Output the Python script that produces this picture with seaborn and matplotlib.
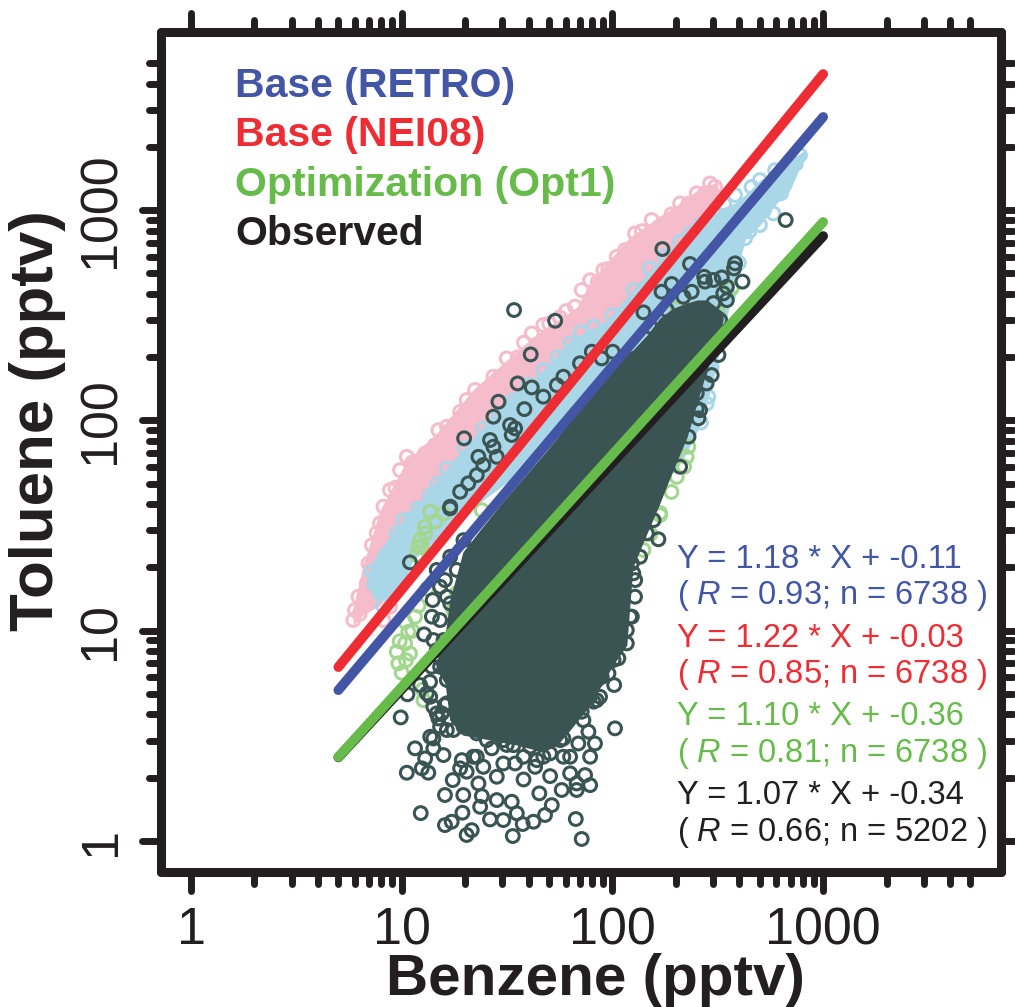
import numpy as np
import pandas as pd
import matplotlib
matplotlib.use('Agg')
import matplotlib.pyplot as plt
from matplotlib.markers import MarkerStyle
import seaborn as sns

# regression lines, end points in pptv
line_x = [5, 1000]
retro_line = [5.22, 2773]
nei08_line = [6.72, 4437]
opt1_line = [2.51, 878]
obs_line = [2.5, 753]

# dense parts of the clouds where single circles can't be read: envelope in pptv
pink_band_x = [5.87, 6.55, 7.89, 10.6, 14.7, 21.8, 31.6, 42, 67.9, 78.3, 121, 151, 209, 261, 317]
pink_band_low = [10.6, 11.9, 13.2, 21.7, 41.8, 58, 90, 125, 174, 216, 335, 417, 579, 721, 1117]
pink_band_high = [12.8, 20.5, 37.5, 64.8, 87.1, 140, 194, 249, 346, 455, 745, 868, 1081, 1274, 1361]

blue_band_x = [6.84, 7.63, 9.5, 11.3, 16.4, 24.3, 32.7, 46.9, 62.9, 94.3, 151, 216, 261, 297, 331, 382, 426, 502, 591, 697, 821]
blue_band_low = [17.4, 14, 14, 21.7, 30.1, 41.8, 52, 58, 64.8, 72, 41.8, 65, 95, 147, 241, 465, 721, 849, 1057, 1247, 1828]
blue_band_high = [18.4, 23.4, 31.1, 37.5, 60, 93, 129, 174, 241, 300, 519, 745, 849, 948, 1023, 1081, 1180, 1390, 1550, 1730, 1932]

obs_band_x = [14.7, 16.05, 16.9, 19.5, 23.5, 29.3, 35.3, 46.9, 54.6, 62.9, 78.3, 100.7, 117, 125, 146, 168, 194, 226, 252, 281, 335]
obs_band_low = [6.5, 5.6, 3.76, 3.19, 3.09, 2.96, 2.86, 2.65, 2.86, 3.37, 4.43, 6.87, 8.55, 20.1, 29.1, 40.5, 58.1, 83.4, 121, 174, 300]
obs_band_high = [7.26, 9.5, 14.0, 23.7, 30.1, 39.6, 49.3, 68.5, 82.5, 100, 129, 174, 209, 216, 255, 307, 342, 362, 374, 374, 327]

# single circles, log10(pptv)
pink_logx = [.913, .944, .992, 1.024, 1.111, 1.158, 1.174, 1.214, 1.277, 1.308, 1.348, 1.435, 1.498, 1.617, 1.672,
             1.822, 1.854, 1.894, 1.957, 2.020, 2.107, 2.186, 2.242, 2.321, 2.400, 2.463, 2.487,
             .770, .778, .794, .834, .842, .858, .897, .826, .913, .881, .929, .944,
             1.05, 1.09, 1.25, 1.39, 1.55, 1.75, 1.93, 2.06, 2.28, 2.36, 2.44,
             .80, .86, .89, .97, 1.07, 1.13, 1.46, 1.58, 1.70, 1.78, 1.98, 2.14, 2.22]
pink_logy = [1.590, 1.669, 1.764, 1.827, 1.843, 1.883, 1.954, 1.970, 2.041, 2.097, 2.145, 2.208, 2.295, 2.414, 2.454,
             2.541, 2.620, 2.667, 2.715, 2.778, 2.889, 2.953, 2.937, 3.032, 3.080, 3.127, 3.111,
             1.051, 1.098, 1.162, 1.225, 1.320, 1.407, 1.511, 1.146, 1.051, 1.464, 1.526, 1.114,
             1.80, 1.78, 1.98, 2.10, 2.30, 2.49, 2.66, 2.81, 2.98, 3.03, 3.08,
             1.08, 1.14, 1.32, 1.68, 1.74, 1.82, 2.20, 2.37, 2.46, 2.52, 2.72, 2.90, 2.92]

blue_logx = [.858, .897, .921, .976, 1.008, 1.079, 1.079, 1.134, 1.214, 1.387, 1.530, 1.672, 1.799, 1.910,
             2.178, 2.321, 2.700, 2.764, 2.629, 2.89, 2.843, 2.772, 2.70, 2.582, 2.487, 2.416,
             2.455, 2.447, 2.471, 2.42, 2.50, 2.55, 2.60, 2.65, 2.72, 2.80, 2.87,
             .87, .91, .95, 1.04, 1.17, 1.30, 1.46, 1.60, 1.74, 1.85, 2.00, 2.10, 2.25, 2.37, 2.53, 2.66]
blue_logy = [1.281, 1.178, 1.336, 1.463, 1.526, 1.582, 1.574, 1.645, 1.772, 1.962, 2.097, 2.240, 2.367, 2.446,
             2.723, 2.850, 2.929, 2.984, 2.866, 3.262, 3.214, 3.19, 3.143, 3.072, 2.977, 2.929,
             2.113, 2.08, 2.255, 1.99, 2.38, 2.60, 2.75, 2.90, 3.00, 3.08, 3.22,
             1.22, 1.12, 1.38, 1.53, 1.70, 1.87, 2.02, 2.17, 2.30, 2.42, 2.50, 2.62, 2.78, 2.89, 3.03, 3.11]

opt_logx = [.984, 1.016, 1.031, 1.063, .976, 1.039, 1.111, 1.079, 1.111, 1.134, 1.198, 1.103, 2.226, 2.147,
            2.305, 2.360, 2.352, 2.226, 2.501, 2.566, 2.305, 1.380, 1.016, 1.087, 1.095, 1.071, 1.261, 1.245,
            1.00, 1.05, .99, 1.08, 1.02, 1.12, 1.16, 1.10, 2.18, 2.28, 2.34]
opt_logy = [.845, .940, .995, 1.067, .900, .892, 1.463, 1.399, 1.495, 1.566, 1.558, .670, 1.550, 1.384,
            1.732, 1.875, 1.827, 1.560, 2.511, 2.629, 2.533, 1.573, 1.043, 1.431, 1.399, 1.360, 1.179, 1.098,
            .80, 1.00, .95, 1.12, .86, 1.20, 1.52, .72, 1.46, 1.66, 1.78]

obs_logx = [1.854, 1.527, 1.308, 1.332, 1.205, 1.237, 1.090, 1.288, 1.419, 1.482, 1.574, 1.625, 1.680, 1.712, 1.826,
            1.522, 1.546, 1.451, 1.380, 1.372, 1.292, 1.205, 1.653, 1.759, 1.830, 1.894, 1.242, 1.024, 1.095, 1.126,
            1.063, 1.111, .995, 1.027, 2.012, 2.008, 1.886, 1.917, 1.894, 1.838, 1.799, 1.767, 1.704, 1.633, 1.578,
            1.538, 1.482, 1.451, 1.364, 1.308, 1.387, 1.277, 1.799, 1.870, 1.830, 1.150, 1.182, 1.198, 1.340, 1.427,
            1.530, 1.672, 1.767, 1.854, 1.925, 1.949, 2.028, 2.068, 2.107, 2.218, 2.131, 2.084, 2.099, 1.106, 1.143,
            1.147, 1.039, 1.230, 1.205, 1.261, 1.214, 1.166, 1.087, 1.119, 1.150, 1.205, 1.174, 1.142, 1.134,
            1.533, 1.728, 1.612, 1.550, 1.617, 1.672, 1.459, 1.582, 1.435, 1.296, 1.514, 1.538, 1.522, 1.419, 1.435,
            1.364, 1.387, 1.356, 1.316, 1.277, 1.229, 1.451, 2.822, 2.237, 2.368, 2.281, 2.233, 2.147, 2.435, 2.439,
            2.519, 2.582, 2.577, 2.617, 2.376, 1.767, 1.736, 1.846, 1.902, 2.001, 1.949, 2.503, 2.471, 2.447, 2.400,
            2.400, 2.408, 2.526, 2.479, 2.543,
            1.245, 1.293, 1.356, 1.435, 1.483, 1.570, 1.625, 1.688, 1.736, 1.783, 1.910, 1.941, 1.981, 2.005, 1.166,
            1.214, 1.135, 1.150, 1.285, 1.356, 1.498, 1.578, 1.641, 1.704, 1.752, 1.862, 1.799, 1.672, 1.546, 1.404,
            1.261, 1.293, 1.230, 1.182, 1.230, 1.182, 1.198, 1.150, 1.166, 1.182, 1.214, 1.135, 1.261, 1.324,
            2.092, 2.108, 2.092, 2.068, 1.957, 1.926, 1.894, 1.831, 2.163, 2.195, 1.609, 1.404, 1.214, 1.190,
            2.321, 2.361, 2.416, 2.511, 2.543, 2.479, 2.337, 2.258, 2.179]
obs_logy = [.010, .024, .029, .052, .076, .092, .133, .135, .103, .100, .081, .092, .124, .171, .105,
            .187, .132, .195, .214, .163, .219, .219, .227, .243, .243, .266, .290, .325, .346, .325,
            .441, .393, .588, .698, .536, .742, .520, .464, .401, .464, .401, .401, .309, .353, .293,
            .369, .369, .306, .274, .330, .353, .346, .322, .314, .274, .488, .544, .409, .401, .441,
            .456, .401, .488, .615, .670, .781, .869, .940, 1.162, 1.435, 1.352, 1.067, 1.273, .983, 1.067,
            1.146, 1.325, 1.590, 1.241, 1.289, 1.162, 1.289, .742, .702, .639, .647, .583, .829, .757,
            2.525, 2.474, 2.314, 2.176, 2.157, 2.113, 2.089, 2.054, 2.018, 1.915, 1.978, 1.962, 1.931, 1.907, 1.875,
            1.827, 1.788, 1.740, 1.701, 1.661, 1.582, 1.827, 2.953, 2.815, 2.744, 2.649, 2.612, 2.514, 2.683, 2.660,
            2.680, 2.747, 2.723, 2.660, 2.612, 2.208, 2.168, 2.272, 2.327, 2.327, 2.295, 2.311, 2.216, 2.176, 2.129,
            2.057, 2.010, 2.604, 2.558, 2.572,
            .528, .544, .512, .544, .480, .512, .480, .512, .544, .607, .663, .686, .797, .861, .607,
            .655, .496, .441, .385, .401, .457, .401, .385, .417, .480, .575, .670, .639, .591, .607,
            .607, 1.431, 1.352, 1.209, 1.130, 1.051, .956, .956, .908, .829, .766, .686, .734, .639,
            1.320, 1.241, 1.067, 1.003, .829, .766, .686, .639, 1.463, 1.526, .449, .480, .528, .607,
            1.780, 1.923, 2.049, 2.477, 2.636, 2.668, 2.588, 2.525, 2.446]

minor_ticks = [2, 3, 4, 5, 6, 7, 8, 9, 20, 30, 40, 50, 60, 70, 80, 90,
               200, 300, 400, 500, 600, 700, 800, 900, 2000, 3000, 4000, 5000]
major_ticks = [1, 10, 100, 1000]
major_labels = ['1', '10', '100', '1000']

legend_labels = ['Base (RETRO)', 'Base (NEI08)', 'Optimization (Opt1)', 'Observed']
fit_labels = ['Y = 1.18 * X + -0.11', '( $\\mathit{R}$ = 0.93; n = 6738 )',
              'Y = 1.22 * X + -0.03', '( $\\mathit{R}$ = 0.85; n = 6738 )',
              'Y = 1.10 * X + -0.36', '( $\\mathit{R}$ = 0.81; n = 6738 )',
              'Y = 1.07 * X + -0.34', '( $\\mathit{R}$ = 0.66; n = 5202 )']

blue = '#4355A5'
red = '#EE2C34'
green = '#66BB4A'
black = '#231F20'
pink_pts = '#F5BCCB'
blue_pts = '#A9D7E8'
green_pts = '#A3D68F'
dark_pts = '#3A5453'

sns.set_theme(style='ticks')
plt.rcParams['font.family'] = ['Liberation Sans', 'DejaVu Sans']
plt.rcParams['mathtext.fontset'] = 'custom'
plt.rcParams['mathtext.it'] = 'Liberation Sans:italic'
plt.rcParams['mathtext.rm'] = 'Liberation Sans'

W, H = 1015, 1007
fig = plt.figure(figsize=(W / 100, H / 100), dpi=100, facecolor='white')
ax = fig.add_axes([160.5 / W, (H - 872) / H, 840.5 / W, 840 / H])
ax.set_xscale('log')
ax.set_yscale('log')


def circles(logx, logy, color):
    sns.scatterplot(x=np.power(10.0, logx), y=np.power(10.0, logy), ax=ax, s=85, marker='o',
                    facecolor='none', edgecolor=color, linewidth=2.2, legend=False)


# clouds, back to front
ax.fill_between(pink_band_x, pink_band_low, pink_band_high, color=pink_pts, lw=0)
circles(pink_logx, pink_logy, pink_pts)
ax.fill_between(blue_band_x, blue_band_low, blue_band_high, color=blue_pts, lw=0)
circles(blue_logx, blue_logy, blue_pts)
circles(opt_logx, opt_logy, green_pts)
ax.fill_between(obs_band_x, obs_band_low, obs_band_high, color=dark_pts, lw=0)
circles(obs_logx, obs_logy, dark_pts)

# fits
for vals, col in [(obs_line, black), (opt1_line, green), (retro_line, blue), (nei08_line, red)]:
    sns.lineplot(x=line_x, y=vals, ax=ax, color=col, lw=7, solid_capstyle='round', errorbar=None)

ax.set_xlim(10 ** -0.145, 10 ** 3.844)
ax.set_ylim(10 ** -0.147, 10 ** 3.847)

# axes: ticks on all four sides, R style, no ticks below 1 or above 5000
for axis, labels in [(ax.xaxis, major_labels), (ax.yaxis, major_labels)]:
    axis.set_major_locator(matplotlib.ticker.FixedLocator(major_ticks))
    axis.set_minor_locator(matplotlib.ticker.FixedLocator(minor_ticks))
    axis.set_major_formatter(matplotlib.ticker.FixedFormatter(labels))
    axis.set_minor_formatter(matplotlib.ticker.NullFormatter())
ax.tick_params(which='major', direction='out', length=14, width=5, color=black, labelcolor=black,
               top=True, right=True, labelsize=37.5, pad=10.5)
ax.tick_params(which='minor', direction='out', length=8.5, width=5, color=black, top=True, right=True)
ax.tick_params(axis='y', which='major', pad=11)
for lab in ax.get_yticklabels():
    lab.set_rotation(90)
    lab.set_va('center')
for axis in (ax.xaxis, ax.yaxis):
    ticks = axis.get_major_ticks(len(major_ticks)) + axis.get_minor_ticks(len(minor_ticks))
    for t in ticks:
        for tl in (t.tick1line, t.tick2line):
            tl.set_marker(MarkerStyle(tl.get_marker(), capstyle='round'))
for sp in ax.spines.values():
    sp.set_linewidth(6.5)
    sp.set_color(black)
    sp.set_capstyle('round')

ax.set_xlabel('Benzene (pptv)', fontsize=42, fontweight='bold', color=black)
ax.set_ylabel('Toluene (pptv)', fontsize=44.5, fontweight='bold', color=black)
ax.xaxis.set_label_coords(0.517, -0.096)
ax.yaxis.set_label_coords(-0.112, 0.537)

for label, col, yy in zip(legend_labels, [blue, red, green, black], [.936, .877, .818, .760]):
    ax.text(.0886, yy, label, color=col, fontsize=29.5, fontweight='bold', va='center', transform=ax.transAxes)

fit_cols = [blue, blue, red, red, green, green, black, black]
for label, col, yy in zip(fit_labels, fit_cols, [.372, .329, .278, .235, .185, .141, .091, .047]):
    ax.text(.6145, yy, label, color=col, fontsize=23.5, va='center', transform=ax.transAxes)

fig.savefig('out.png', dpi=100)
